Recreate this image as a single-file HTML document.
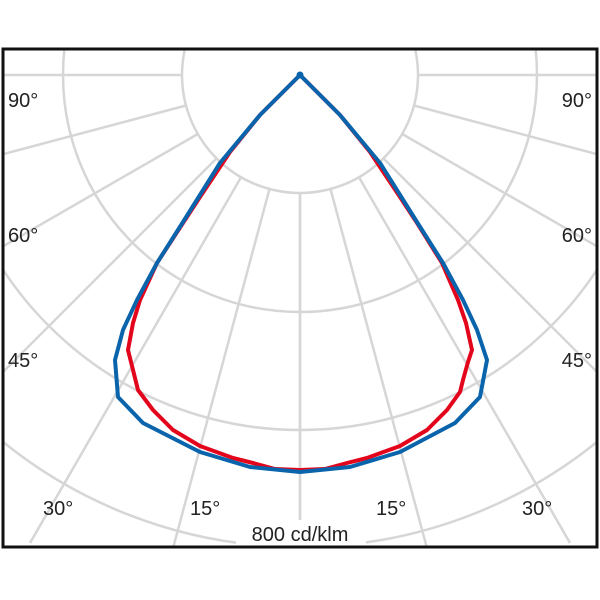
<!DOCTYPE html>
<html><head><style>html,body{margin:0;padding:0;background:#fff;width:600px;height:600px;overflow:hidden}svg{display:block}</style></head>
<body>
<svg width="600" height="600" viewBox="0 0 600 600" xmlns="http://www.w3.org/2000/svg" font-family="Liberation Sans, sans-serif">
<defs><clipPath id="c"><rect x="3" y="49" width="594" height="498"/></clipPath></defs>
<g clip-path="url(#c)" stroke="#d6d6d6" stroke-width="2.5" fill="none">
<circle cx="300" cy="75" r="118"/>
<circle cx="300" cy="75" r="237"/>
<circle cx="300" cy="75" r="355"/>
<circle cx="300" cy="75" r="472"/>
<g id="rl">
<line x1="300" y1="193" x2="300" y2="560"/>
<line x1="269.5" y1="189" x2="172" y2="552"/>
<line x1="241" y1="177.2" x2="30" y2="543"/>
<line x1="216.6" y1="158.4" x2="0" y2="375"/>
<line x1="197.8" y1="134" x2="0" y2="248"/>
<line x1="186" y1="105.5" x2="0" y2="155"/>
<line x1="182" y1="75" x2="0" y2="75"/>
</g>
<use href="#rl" transform="translate(600,0) scale(-1,1)"/>
</g>
<rect x="236" y="520" width="130" height="26" fill="#fff"/>
<g fill="none" stroke-width="4" stroke-linejoin="round">
<path stroke="#e3051b" d="M300,75 L260,115 L230,152 L200,197 L183,223 L157,263 L140,300 L133,323 L128,350 L133,370 L138,390 L153,410 L173,430 L200,446 L233,458 L253,463 L275,469 L300,470 L325,469 L347,463 L367,458 L400,446 L427,430 L447,410 L460,392 L463,380 L468,362 L472,350 L466,323 L458,300 L442,263 L417,223 L400,197 L370,152 L340,115 Z"/>
<path stroke="#0a64ac" d="M300,75 L260,115 L220,163 L183,222 L157,263 L137,300 L123,330 L115,360 L118,397 L143,423 L200,452 L250,467 L300,472 L350,467 L400,452 L455,423 L480,397 L487,360 L477,330 L463,300 L443,263 L417,222 L380,163 L340,115 Z"/>
</g>
<circle cx="300" cy="75" r="3.5" fill="#0a64ac"/>
<rect x="3" y="49" width="594" height="498" fill="none" stroke="#111" stroke-width="3"/>
<g font-size="20" fill="#222">
<text x="8" y="107">90°</text>
<text x="8" y="242">60°</text>
<text x="8" y="367">45°</text>
<text x="592" y="107" text-anchor="end">90°</text>
<text x="592" y="242" text-anchor="end">60°</text>
<text x="592" y="367" text-anchor="end">45°</text>
<text x="43" y="515">30°</text>
<text x="190" y="515">15°</text>
<text x="376" y="515">15°</text>
<text x="522" y="515">30°</text>
<text x="300" y="541" text-anchor="middle">800 cd/klm</text>
</g>
</svg>
</body></html>
